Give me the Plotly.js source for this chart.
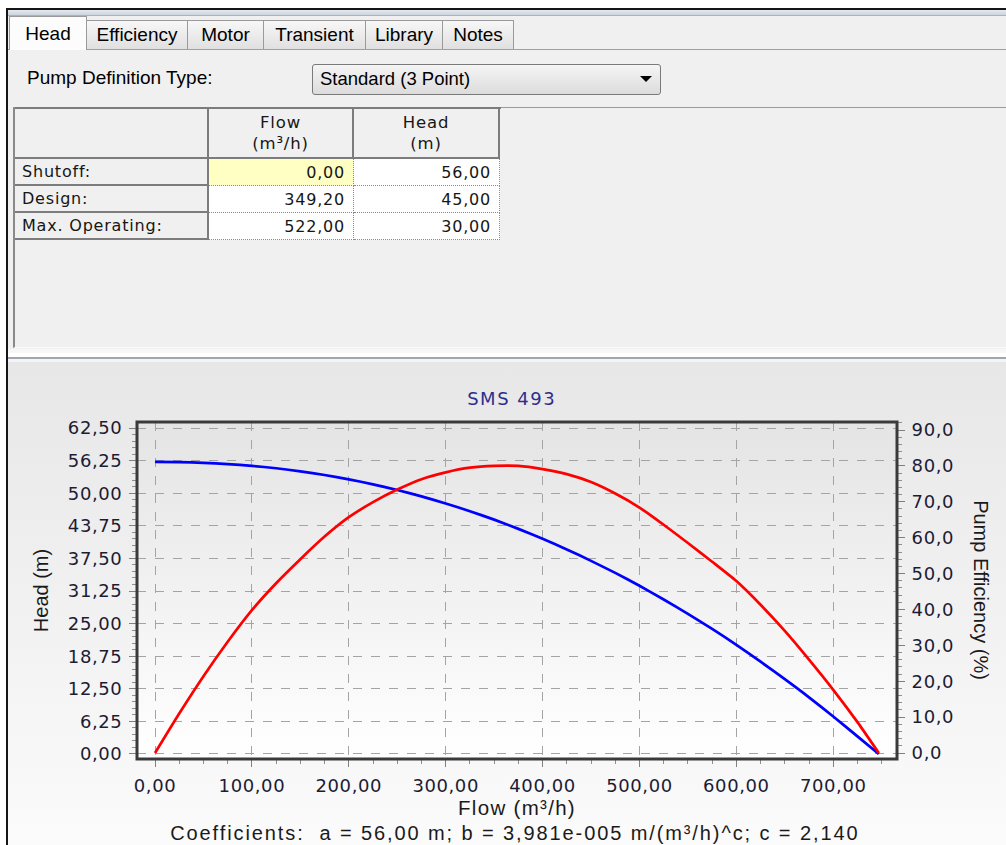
<!DOCTYPE html>
<html>
<head>
<meta charset="utf-8">
<script src="https://cdn.plot.ly/plotly-3.0.1.min.js"></script>
<style>
html,body{margin:0;padding:0;background:#ffffff;}
#root{position:relative;width:1006px;height:845px;overflow:hidden;background:#ffffff;}
.a{position:absolute;box-sizing:border-box;}
.ui{font-family:"Liberation Sans",Arial,sans-serif;font-size:19px;color:#000;white-space:nowrap;}
.tab{display:flex;align-items:center;justify-content:center;border:1px solid #9a9a9a;border-bottom:none;background:linear-gradient(#f7f7f7,#e0e0e0);}
.tab.sel{background:#fcfcfc;}
.cell{display:flex;align-items:center;font-family:"DejaVu Sans",Verdana,sans-serif;font-size:16px;letter-spacing:0.8px;color:#161616;white-space:nowrap;}
.hdr{background:#f0f0f0;border-right:2px solid #7c7c7c;border-bottom:2px solid #7c7c7c;flex-direction:column;justify-content:center;line-height:21px;font-size:16.5px;}
.lbl{background:#f0f0f0;border-right:2px solid #7c7c7c;border-bottom:2px solid #7c7c7c;padding-left:7px;}
.dat{background:#ffffff;border-right:1px dotted #8a8a8a;border-bottom:1px dotted #8a8a8a;justify-content:flex-end;padding-right:8px;}
#chart{position:absolute;left:0;top:0;width:1006px;height:845px;z-index:5;}
.xtick,.ytick,.y2tick{letter-spacing:0.6px;}
.gtitle{letter-spacing:1.5px;}
.g-xtitle text{letter-spacing:1.3px;}
g.annotation[data-index="1"] text{letter-spacing:1.9px;}
</style>
</head>
<body>
<div id="root">
  <!-- window frame -->
  <div class="a" style="left:6px;top:8px;width:1000px;height:2px;background:#151515;"></div>
  <div class="a" style="left:6px;top:8px;width:2px;height:837px;background:#151515;"></div>
  <div class="a" style="left:8px;top:10px;width:998px;height:5px;background:linear-gradient(#e4e9ef,#ccd4dd);"></div>
  <div class="a" style="left:8px;top:15px;width:998px;height:1px;background:#aab2bc;"></div>
  <!-- tab page panel -->
  <div class="a" style="left:8px;top:16px;width:998px;height:336px;background:#f0f0f0;"></div>
  <div class="a" style="left:8px;top:49px;width:998px;height:1px;background:#a0a0a0;"></div>
  <div id="tabs"></div>
  <!-- dropdown row -->
  <div class="a ui" style="left:27px;top:67px;">Pump Definition Type:</div>
  <div class="a" style="left:312px;top:64px;width:349px;height:31px;border:1px solid #7a7a7a;border-radius:3px;background:linear-gradient(#f5f5f5,#dcdcdc);"></div>
  <div class="a ui" style="left:320px;top:68px;font-size:18.5px;">Standard (3 Point)</div>
  <div class="a" style="left:640px;top:76px;width:0;height:0;border-left:6px solid transparent;border-right:6px solid transparent;border-top:6px solid #000;"></div>
  <!-- grid area -->
  <div class="a" style="left:13px;top:107px;width:993px;height:241px;background:#f0f0f0;border-left:2px solid #8a8a8a;border-top:1px solid #9a9a9a;border-bottom:1px solid #fbfbfb;"></div>
  <div id="tbl"></div>
  <!-- splitter -->
  <div class="a" style="left:8px;top:349px;width:998px;height:4px;background:#f7f7f7;"></div>
  <div class="a" style="left:8px;top:357px;width:998px;height:2px;background:#a2a6b0;"></div>
  <div class="a" style="left:8px;top:359px;width:998px;height:3px;background:#f4f4f4;"></div>
  <!-- chart panel -->
  <div class="a" style="left:8px;top:362px;width:998px;height:483px;background:linear-gradient(#e7e7e7,#fbfbfb);"></div>
  <div class="a" style="left:137px;top:422px;width:760px;height:337px;background:linear-gradient(#e4e4e4,#ffffff);"></div>
  <div id="chart"></div>
</div>
<script>
// ---- UI data ----
const tabNames = ['Head','Efficiency','Motor','Transient','Library','Notes'];
const rowLabels = ['Shutoff:','Design:','Max. Operating:'];
const tableFlow = [0.00, 349.20, 522.00];
const tableHead = [56.00, 45.00, 30.00];
const colHeaders = [['Flow','(m³/h)'],['Head','(m)']];

// ---- chart data ----
const flow = [0,25,50,75,100,125,150,175,200,225,250,275,300,325,350,375,400,425,450,475,500,525,550,575,600,625,650,675,700,725,747];
const head = [56.00,55.96,55.83,55.59,55.24,54.78,54.19,53.49,52.66,51.70,50.61,49.39,48.04,46.55,44.93,43.16,41.26,39.22,37.03,34.72,32.25,29.62,26.87,23.97,20.92,17.69,14.34,10.86,7.20,3.38,0.00];
const efficiency = [0.0,11.0,21.4,31.0,39.8,47.3,54.0,60.3,65.7,69.9,73.4,76.3,78.2,79.5,80.0,80.0,79.1,77.7,75.5,72.3,68.4,63.6,58.5,53.3,47.9,41.3,34.0,26.0,17.6,8.6,0.0];
const coefA = '56,00', coefB = '3,981e-005', coefC = '2,140';

// ---- build tabs ----
const tabEdges = [9,86,187,263,365,442,513];
const tabs = document.getElementById('tabs');
tabNames.forEach((n,i)=>{
  const d = document.createElement('div');
  const sel = i===0;
  d.className = 'a ui tab' + (sel?' sel':'');
  d.style.left = tabEdges[i]+'px';
  d.style.top = (sel?16:20)+'px';
  d.style.width = (tabEdges[i+1]-tabEdges[i]+1)+'px';
  d.style.height = (sel?34:29)+'px';
  d.textContent = n;
  tabs.appendChild(d);
});

// ---- build table ----
const fmt = (v)=>v.toFixed(2).replace('.',',');
const colX = [15,209,354,500];
const rowY = [108,159,186,213,240];
const tbl = document.getElementById('tbl');
function cell(cls,x0,x1,y0,y1,html,bg){
  const d=document.createElement('div');
  d.className='a cell '+cls;
  d.style.left=x0+'px';d.style.top=y0+'px';
  d.style.width=(x1-x0)+'px';d.style.height=(y1-y0)+'px';
  if(bg) d.style.background=bg;
  d.innerHTML=html; tbl.appendChild(d);
}
cell('hdr',colX[0],colX[1],rowY[0],rowY[1],'');
colHeaders.forEach((h,i)=>cell('hdr',colX[i+1],colX[i+2],rowY[0],rowY[1],'<div>'+h[0]+'</div><div>'+h[1]+'</div>'));
rowLabels.forEach((l,r)=>{
  cell('lbl',colX[0],colX[1],rowY[r+1],rowY[r+2],l);
  cell('dat',colX[1],colX[2],rowY[r+1],rowY[r+2],fmt(tableFlow[r]), r===0?'#ffffc4':null);
  cell('dat',colX[2],colX[3],rowY[r+1],rowY[r+2],fmt(tableHead[r]));
});
const tb=document.createElement('div');tb.className='a';
tb.style.cssText='left:15px;top:107px;width:486px;height:2px;background:#7c7c7c;';tbl.appendChild(tb);

// ---- chart ----
const tickFont = {family:'DejaVu Sans, Verdana, sans-serif', size:18, color:'#1c1c34'};
const traces = [
  {x:flow, y:head, type:'scatter', mode:'lines', name:'Head', line:{color:'#0000ff', width:2.7, shape:'spline', smoothing:0.6}, yaxis:'y', hoverinfo:'skip'},
  {x:flow, y:efficiency, type:'scatter', mode:'lines', name:'Pump Efficiency', line:{color:'#ff0000', width:2.7, shape:'spline', smoothing:0.6}, yaxis:'y2', hoverinfo:'skip'}
];
const commonAx = {ticks:'outside', ticklen:7, tickwidth:1, tickcolor:'#808080', zeroline:false, showline:false, tickfont:tickFont, fixedrange:true, ticklabelstandoff:3};
const layout = {
  width:1006, height:845,
  margin:{l:137, r:109, t:422, b:86, pad:0},
  paper_bgcolor:'rgba(0,0,0,0)', plot_bgcolor:'rgba(0,0,0,0)',
  separators:',.',
  showlegend:false,
  font:{family:'DejaVu Sans, Verdana, sans-serif', size:18, color:'#1c1c34'},
  title:{text:'SMS 493', font:{family:'DejaVu Sans, Verdana, sans-serif', size:18, color:'#2e2e8c'}, xref:'paper', x:0.493, xanchor:'center', yref:'container', y:1-399/845, yanchor:'middle'},
  xaxis:Object.assign({}, commonAx, {
    range:[-18.6,765.8], tick0:0, dtick:100, tickformat:'.2f',
    showgrid:true, gridcolor:'#a4a4a4', gridwidth:1, griddash:'dash',
    minor:{tick0:0, dtick:25, ticks:'outside', ticklen:4, tickcolor:'#909090', showgrid:false},
    title:{text:'Flow (m³/h)', font:{family:'Liberation Sans, Arial, sans-serif', size:20.5, color:'#1a1a1a'}, standoff:0}
  }),
  yaxis:Object.assign({}, commonAx, {
    range:[-0.96,63.65], tick0:0, dtick:6.25, tickformat:'.2f',
    showgrid:true, gridcolor:'#a4a4a4', gridwidth:1, griddash:'dash',
    minor:{tick0:0, dtick:1.25, ticks:'outside', ticklen:4, tickcolor:'#909090', showgrid:false},
    title:{text:'Head (m)', font:{family:'Liberation Sans, Arial, sans-serif', size:20, color:'#1a1a1a'}, standoff:13}
  }),
  yaxis2:Object.assign({}, commonAx, {
    overlaying:'y', side:'right',
    range:[-1.67,92.23], tick0:0, dtick:10, tickformat:'.1f',
    showgrid:false,
    minor:{tick0:0, dtick:2, ticks:'outside', ticklen:4, tickcolor:'#909090', showgrid:false}
  }),
  shapes:[{type:'rect', xref:'paper', yref:'paper', x0:0, y0:0, x1:1, y1:1, line:{color:'#3a3a3a', width:3}, layer:'above'}],
  annotations:[
    {text:'Pump Efficiency (%)', xref:'paper', yref:'paper', x:1.111, y:0.5, xanchor:'center', yanchor:'middle', textangle:90, showarrow:false, font:{family:'Liberation Sans, Arial, sans-serif', size:20, color:'#1a1a1a'}},
    {text:'Coefficients:  a = '+coefA+' m; b = '+coefB+' m/(m³/h)^c; c = '+coefC, xref:'paper', yref:'paper', x:0.497, y:(759-833)/337, xanchor:'center', yanchor:'middle', showarrow:false, font:{family:'Liberation Sans, Arial, sans-serif', size:20, color:'#1a1a1a'}}
  ]
};
Plotly.newPlot('chart', traces, layout, {staticPlot:true, displayModeBar:false});
</script>
</body>
</html>
